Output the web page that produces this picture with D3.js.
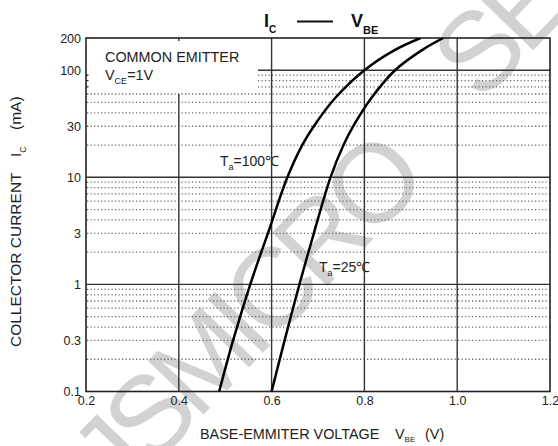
<!DOCTYPE html>
<html>
<head>
<meta charset="utf-8">
<script src="https://d3js.org/d3.v7.min.js"></script>
<style>
  body { margin: 0; background: #fff; }
  svg { font-family: "Liberation Sans", Arial, sans-serif; }
  .major { stroke: #333; stroke-width: 1.4; fill: none; }
  .dots { stroke: #666; stroke-width: 1.3; stroke-dasharray: 1.2, 2.3; fill: none; }
  .curve { stroke: #000; stroke-width: 2.5; fill: none; }
</style>
</head>
<body>
<script>
// data
var vbeTicks = [0.2, 0.4, 0.6, 0.8, 1.0, 1.2];
var vbeLabels = ["0.2", "0.4", "0.6", "0.8", "1.0", "1.2"];
var icTicks = [0.1, 0.3, 1, 3, 10, 30, 100, 200];
var icLabels = ["0.1", "0.3", "1", "3", "10", "30", "100", "200"];
var dotRows = [0.2, 0.3, 0.4, 0.5, 0.6, 0.7, 0.8, 0.9,
               2, 3, 4, 5, 6, 7, 8, 9,
               20, 30, 40, 50, 60, 70, 80, 90];
var icPoints = [0.1, 0.3, 1, 3, 10, 20, 30, 55, 100, 155, 200];
var vbe100 = [0.487, 0.517, 0.554, 0.592, 0.634, 0.666, 0.691, 0.737, 0.800, 0.866, 0.921];
var vbe25  = [0.600, 0.628, 0.660, 0.691, 0.727, 0.755, 0.776, 0.815, 0.866, 0.925, 0.970];

var width = 558, height = 446;
var svg = d3.select("body").append("svg").attr("width", width).attr("height", height);

var x = d3.scaleLinear().domain([0.2, 1.2]).range([86, 550]);
var y = d3.scaleLog().domain([0.1, 200]).range([391.5, 38]);

// watermark
var wm = svg.append("g").attr("fill", "#d2d2d2").attr("font-size", 112)
  .attr("letter-spacing", -9);
wm.append("text").attr("transform", "translate(90,474) rotate(-46)")
  .attr("dy", "0.36em").text("JSMICRO");
wm.append("text").attr("transform", "translate(452,76) rotate(-46)")
  .attr("dy", "0.36em").text("SEMI");

// dotted rows; 70..90 are cut by the note box
var boxRight = 258;
svg.append("g").selectAll("line").data(dotRows).enter().append("line")
  .attr("class", "dots")
  .attr("x1", function(d) { return d > 65 ? boxRight : x(0.2) + 1; })
  .attr("x2", x(1.2))
  .attr("y1", function(d) { return y(d); })
  .attr("y2", function(d) { return y(d); });
svg.append("g").selectAll("line").data(dotRows.filter(function(d){ return d > 65; }))
  .enter().append("line").attr("class", "major")
  .attr("x1", x(0.2)).attr("x2", x(0.2) + 2.5)
  .attr("y1", function(d) { return y(d); }).attr("y2", function(d) { return y(d); });

// major lines
svg.append("g").selectAll("line").data([1, 10, 100]).enter().append("line")
  .attr("class", "major")
  .attr("x1", function(d) { return d == 100 ? boxRight : x(0.2); })
  .attr("x2", x(1.2))
  .attr("y1", function(d) { return y(d); })
  .attr("y2", function(d) { return y(d); });
svg.append("g").selectAll("line").data([0.4, 0.6, 0.8, 1.0]).enter().append("line")
  .attr("class", "major")
  .attr("x1", function(d) { return x(d); })
  .attr("x2", function(d) { return x(d); })
  .attr("y1", function(d) { return d == 0.4 ? y(60) : y(200); })
  .attr("y2", y(0.1));
svg.append("line").attr("class", "major")
  .attr("x1", x(0.4)).attr("x2", x(0.4)).attr("y1", y(200)).attr("y2", y(200) + 3);

// frame
svg.append("rect").attr("x", x(0.2)).attr("y", y(200))
  .attr("width", x(1.2) - x(0.2)).attr("height", y(0.1) - y(200))
  .attr("fill", "none").attr("stroke", "#222").attr("stroke-width", 1.6);

// curves
svg.append("clipPath").attr("id", "plot").append("rect")
  .attr("x", x(0.2)).attr("y", y(200))
  .attr("width", x(1.2) - x(0.2)).attr("height", y(0.1) - y(200));
var line = d3.line().curve(d3.curveCatmullRom.alpha(0.5))
  .x(function(d) { return x(d[0]); }).y(function(d) { return y(d[1]); });
[vbe100, vbe25].forEach(function(s) {
  svg.append("path").attr("class", "curve").attr("clip-path", "url(#plot)")
    .attr("d", line(s.map(function(v, i) { return [v, icPoints[i]]; })));
});

// axes
var yAxis = svg.append("g").attr("transform", "translate(" + (x(0.2) - 5) + ",0)")
  .call(d3.axisLeft(y).tickValues(icTicks).tickSize(0).tickPadding(0)
    .tickFormat(function(d, i) { return icLabels[i]; }));
yAxis.select(".domain").remove();
yAxis.selectAll("text").attr("font-size", 12.5).attr("fill", "#222")
  .attr("font-family", "Liberation Sans, Arial, sans-serif");

var xAxis = svg.append("g").attr("transform", "translate(0," + (y(0.1) + 5) + ")")
  .call(d3.axisBottom(x).tickValues(vbeTicks).tickSize(0).tickPadding(0)
    .tickFormat(function(d, i) { return vbeLabels[i]; }));
xAxis.select(".domain").remove();
xAxis.selectAll("text").attr("font-size", 12.5).attr("fill", "#222")
  .attr("font-family", "Liberation Sans, Arial, sans-serif");

// title
var t = svg.append("g").attr("font-weight", "bold").attr("fill", "#111");
var ti = t.append("text").attr("x", 264).attr("y", 27).attr("font-size", 18);
ti.append("tspan").text("I");
ti.append("tspan").attr("font-size", 10).attr("dy", 6).text("C");
t.append("line").attr("x1", 297).attr("x2", 333).attr("y1", 21.5).attr("y2", 21.5)
  .attr("stroke", "#111").attr("stroke-width", 2);
var tv = t.append("text").attr("x", 351).attr("y", 27).attr("font-size", 18);
tv.append("tspan").text("V");
tv.append("tspan").attr("font-size", 11).attr("dy", 7).text("BE");

// note
svg.append("text").attr("x", 105).attr("y", 62).attr("font-size", 14.4).attr("fill", "#222")
  .text("COMMON EMITTER");
var vce = svg.append("text").attr("x", 105).attr("y", 79.5).attr("font-size", 14.4).attr("fill", "#222");
vce.append("tspan").text("V");
vce.append("tspan").attr("font-size", 9).attr("dy", 4).text("CE");
vce.append("tspan").attr("dy", -4).text("=1V");

// curve labels
function tLabel(px, py, rest) {
  var g = svg.append("text").attr("x", px).attr("y", py).attr("font-size", 14).attr("fill", "#222");
  g.append("tspan").text("T");
  g.append("tspan").attr("font-size", 9).attr("dy", 4).text("a");
  g.append("tspan").attr("dy", -4).text(rest);
}
tLabel(220, 165.5, "=100℃");
tLabel(319, 271.5, "=25℃");

// axis titles
var xt = svg.append("text").attr("x", 200).attr("y", 439).attr("font-size", 14.4).attr("fill", "#222");
xt.append("tspan").text("BASE-EMMITER VOLTAGE");
xt.append("tspan").attr("x", 395).text("V");
xt.append("tspan").attr("font-size", 8).attr("dy", 3).text("BE");
xt.append("tspan").attr("x", 425).attr("dy", -3).text("(V)");

var yt = svg.append("text").attr("transform", "translate(21,347) rotate(-90)")
  .attr("font-size", 15.5).attr("fill", "#222");
yt.append("tspan").text("COLLECTOR CURRENT");
yt.append("tspan").attr("x", 190).text("I");
yt.append("tspan").attr("font-size", 9).attr("dy", 5).text("C");
yt.append("tspan").attr("x", 217).attr("dy", -5).text("(mA)");
</script>
</body>
</html>
